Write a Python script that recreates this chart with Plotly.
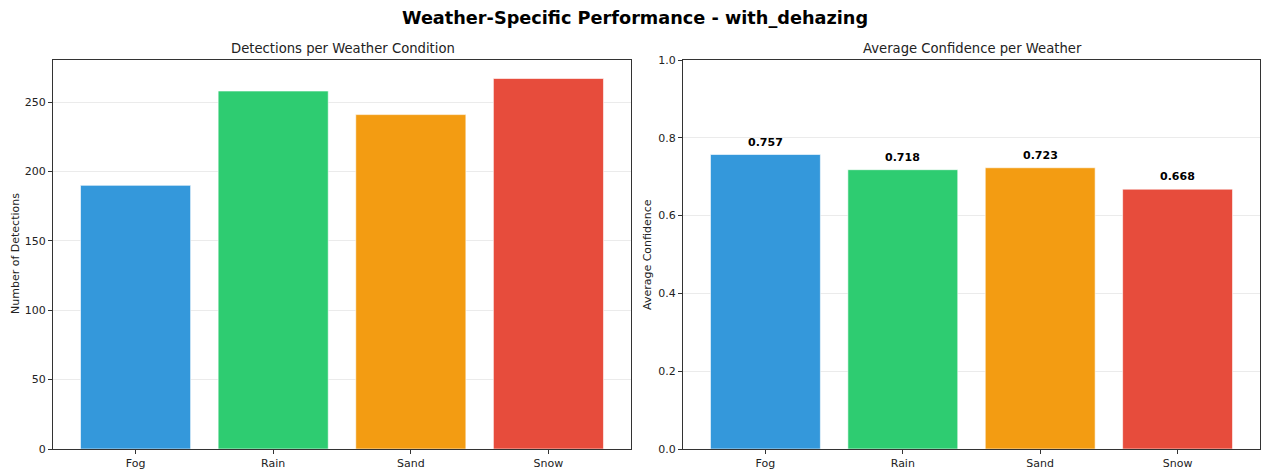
import plotly.graph_objects as go

weathers = ["Fog", "Rain", "Sand", "Snow"]
detections = [190, 258, 241, 267]
confidence = [0.757, 0.718, 0.723, 0.668]
colors = ["#3498db", "#2ecc71", "#f39c12", "#e74c3c"]

W, H = 1261, 470
FONT = "DejaVu Sans"

fig = go.Figure()
fig.add_trace(go.Bar(x=weathers, y=detections, marker=dict(color=colors, line=dict(color="rgba(255,255,255,0.6)", width=1)),
                     width=0.8, xaxis="x", yaxis="y", showlegend=False, hoverinfo="x+y"))
fig.add_trace(go.Bar(x=weathers, y=confidence, marker=dict(color=colors, line=dict(color="rgba(255,255,255,0.6)", width=1)),
                     width=0.8, xaxis="x2", yaxis="y2", showlegend=False, hoverinfo="x+y"))

ydom = [(470 - 449) / H, (470 - 60) / H]
axis_common = dict(showline=True, linecolor="#333333", linewidth=1, mirror=True, ticks="outside",
                   ticklen=4, tickcolor="#333333", tickfont=dict(family=FONT, size=11, color="#222222"),
                   zeroline=False, automargin=False)

fig.update_layout(
    width=W, height=H, margin=dict(l=0, r=0, t=0, b=0, autoexpand=False),
    plot_bgcolor="white", paper_bgcolor="white", bargap=0.2,
    xaxis=dict(domain=[53 / W, 631 / W], range=[-0.6, 3.6], showgrid=False, anchor="y", **axis_common),
    yaxis=dict(domain=ydom, range=[0, 280.35], tickvals=[0, 50, 100, 150, 200, 250], showgrid=True,
               gridcolor="rgba(0,0,0,0.08)", anchor="x", **axis_common),
    xaxis2=dict(domain=[683 / W, 1260 / W], range=[-0.6, 3.6], showgrid=False, anchor="y2", **axis_common),
    yaxis2=dict(domain=ydom, range=[0, 1.0], tickvals=[0, 0.2, 0.4, 0.6, 0.8, 1.0], tickformat=".1f",
                showgrid=True, gridcolor="rgba(0,0,0,0.08)", anchor="x2", **axis_common),
)

ann = [
    dict(text="<b>Weather-Specific Performance - with_dehazing</b>", x=635 / W, y=(470 - 18) / H,
         xref="paper", yref="paper", showarrow=False, font=dict(family=FONT, size=17.7, color="black"),
         xanchor="center", yanchor="middle"),
    dict(text="Detections per Weather Condition", x=343 / W, y=(470 - 48) / H, xref="paper", yref="paper",
         showarrow=False, font=dict(family=FONT, size=13.2, color="#222222"), xanchor="center", yanchor="middle"),
    dict(text="Average Confidence per Weather", x=972 / W, y=(470 - 48) / H, xref="paper", yref="paper",
         showarrow=False, font=dict(family=FONT, size=13.2, color="#222222"), xanchor="center", yanchor="middle"),
    dict(text="Number of Detections", x=15 / W, y=(470 - 254) / H, xref="paper", yref="paper", textangle=-90,
         showarrow=False, font=dict(family=FONT, size=11, color="#222222"), xanchor="center", yanchor="middle"),
    dict(text="Average Confidence", x=647 / W, y=(470 - 254) / H, xref="paper", yref="paper", textangle=-90,
         showarrow=False, font=dict(family=FONT, size=11, color="#222222"), xanchor="center", yanchor="middle"),
]
for w, c in zip(weathers, confidence):
    ann.append(dict(text="<b>%.3f</b>" % c, x=w, y=c, xref="x2", yref="y2", showarrow=False, yanchor="bottom",
                    yshift=4, font=dict(family=FONT, size=11, color="black")))
fig.update_layout(annotations=ann)

fig.write_html("out.html", config={"displayModeBar": False},
               post_script="document.body.style.margin='0';document.body.style.overflow='hidden';")
